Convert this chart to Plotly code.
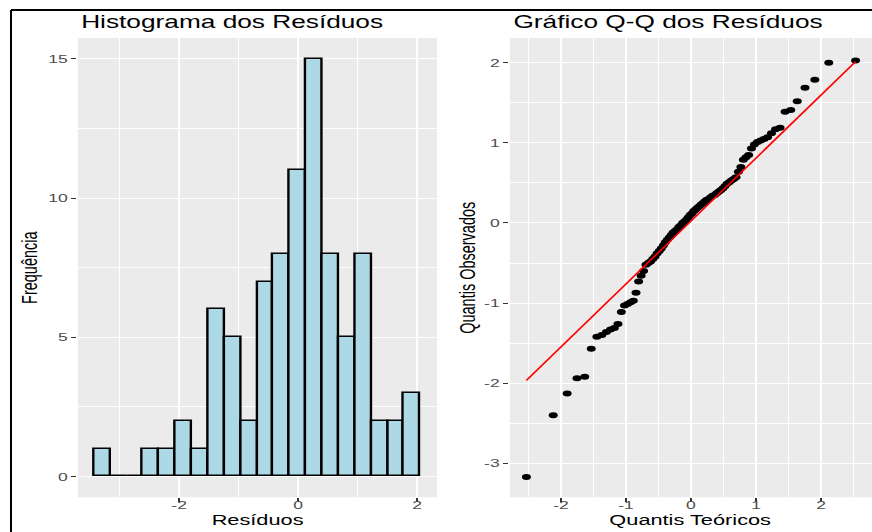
from statistics import NormalDist

import numpy as np
import plotly.graph_objects as go

# Resíduos do modelo (ordenados)
residuos = [
    -3.17, -2.40, -2.13, -1.94, -1.92, -1.57,
    -1.42, -1.40, -1.36, -1.33, -1.31, -1.26,
    -1.11, -1.03, -1.01, -0.99, -0.97,
    -0.87, -0.73,
    -0.66, -0.60, -0.52, -0.50, -0.48, -0.45, -0.42,
    -0.38, -0.35, -0.32, -0.28, -0.24, -0.21, -0.18, -0.15,
    -0.12, -0.10, -0.08, -0.05, -0.03, 0.00, 0.02, 0.04, 0.07, 0.10, 0.12,
    0.15, 0.17, 0.19, 0.21, 0.23, 0.25, 0.27, 0.29, 0.30, 0.32, 0.34, 0.35,
    0.37, 0.39, 0.41,
    0.43, 0.46, 0.49, 0.51, 0.53, 0.55, 0.57, 0.64,
    0.70, 0.79, 0.82, 0.85, 0.93,
    0.98, 1.01, 1.03, 1.05, 1.07, 1.12, 1.17, 1.19,
    1.39, 1.41,
    1.52, 1.69,
    1.79, 2.00, 2.03,
]

# Histograma: 20 classes
contagens = [1, 0, 0, 1, 1, 2, 1, 6, 5, 2, 7, 8, 11, 15, 8, 5, 8, 2, 2, 3]
inicio_classes = -3.425
largura_classe = 0.2742

hist_x_ticks = [-2, 0, 2]
hist_x_labels = ["-2", "0", "2"]
hist_y_ticks = [0, 5, 10, 15]
hist_y_labels = ["0", "5", "10", "15"]
qq_x_ticks = [-2, -1, 0, 1, 2]
qq_x_labels = ["-2", "-1", "0", "1", "2"]
qq_y_ticks = [-3, -2, -1, 0, 1, 2]
qq_y_labels = ["-3", "-2", "-1", "0", "1", "2"]

# ---- cálculos ----
centros = inicio_classes + largura_classe * (np.arange(len(contagens)) + 0.5)

n = len(residuos)
normal = NormalDist()
teoricos = [normal.inv_cdf((i - 0.5) / n) for i in range(1, n + 1)]

q1, q3 = np.quantile(residuos, [0.25, 0.75])
t1, t3 = normal.inv_cdf(0.25), normal.inv_cdf(0.75)
inclinacao = (q3 - q1) / (t3 - t1)
intercepto = q1 - inclinacao * t1
linha_x = [teoricos[0], teoricos[-1]]
linha_y = [intercepto + inclinacao * v for v in linha_x]

# ---- aparência ----
W, H = 581, 532
ESTICA = 872 / W
FONTE = "Liberation Sans, Arial, sans-serif"
PAINEL = "#EBEBEB"
TXT_EIXO = "#4D4D4D"

fig = go.Figure()

fig.add_trace(go.Bar(
    x=centros, y=contagens, width=largura_classe,
    marker=dict(color="#ADD8E6", line=dict(color="black", width=1.6)),
    xaxis="x", yaxis="y", showlegend=False, hoverinfo="skip",
))

fig.add_trace(go.Scatter(
    x=teoricos, y=residuos, mode="markers",
    marker=dict(color="black", size=6, line=dict(width=0)),
    xaxis="x2", yaxis="y2", showlegend=False, hoverinfo="skip",
))

fig.add_trace(go.Scatter(
    x=linha_x, y=linha_y, mode="lines",
    line=dict(color="red", width=1.3),
    xaxis="x2", yaxis="y2", showlegend=False, hoverinfo="skip",
))


def eixo(domain, rng, vals, labels, minor_dtick, anchor, standoff):
    return dict(
        domain=domain, range=rng, anchor=anchor,
        tickmode="array", tickvals=vals, ticktext=labels,
        ticks="outside", ticklen=3.5, tickwidth=1, tickcolor="#333333",
        tickfont=dict(family=FONTE, size=11.7, color=TXT_EIXO),
        ticklabelstandoff=standoff,
        showgrid=True, gridcolor="white", gridwidth=1.1,
        minor=dict(dtick=minor_dtick, tick0=0, showgrid=True,
                   gridcolor="white", gridwidth=0.55),
        zeroline=False, showline=False, fixedrange=True,
    )


y_dom = [0.0652, 0.9286]
esq_dom = [51.97 / W, 291.2 / W]
dir_dom = [339.8 / W, 1.0]

fig.update_layout(
    width=W, height=H,
    margin=dict(l=0, r=0, t=0, b=0),
    paper_bgcolor="white", plot_bgcolor=PAINEL,
    bargap=0,
    xaxis=eixo(esq_dom, [-3.699, 2.333], hist_x_ticks, hist_x_labels, 1, "y", -7),
    yaxis=eixo(y_dom, [-0.75, 15.75], hist_y_ticks, hist_y_labels, 2.5, "x", 0),
    xaxis2=eixo(dir_dom, [-2.784, 2.784], qq_x_ticks, qq_x_labels, 0.5, "y2", -7),
    yaxis2=eixo(y_dom, [-3.425, 2.31], qq_y_ticks, qq_y_labels, 0.5, "x2", 0),
)

titulo_y = 1 - 22.2 / H
eixo_x_y = 1 - 520.3 / H
meio_y = (y_dom[0] + y_dom[1]) / 2

anotacoes = [
    dict(text="Histograma dos Resíduos", x=esq_dom[0], y=titulo_y,
         xanchor="left", yanchor="middle", font=dict(size=17.5)),
    dict(text="Gráfico Q-Q dos Resíduos", x=dir_dom[0], y=titulo_y,
         xanchor="left", yanchor="middle", font=dict(size=17.5)),
    dict(text="Resíduos", x=sum(esq_dom) / 2, y=eixo_x_y,
         xanchor="center", yanchor="middle", font=dict(size=14.5)),
    dict(text="Quantis Teóricos", x=sum(dir_dom) / 2, y=eixo_x_y,
         xanchor="center", yanchor="middle", font=dict(size=14.5)),
    dict(text="Frequência", x=19.3 / W, y=meio_y, textangle=-90,
         xanchor="center", yanchor="middle", font=dict(size=14.5)),
    dict(text="Quantis Observados", x=311.2 / W, y=meio_y, textangle=-90,
         xanchor="center", yanchor="middle", font=dict(size=14.5)),
]
for a in anotacoes:
    a.update(xref="paper", yref="paper", showarrow=False)
    a["font"].update(family=FONTE, color="black")
fig.update_layout(annotations=anotacoes)

# moldura preta (topo e lateral esquerda)
borda_x = 7.33 / W
borda_y = 1 - 10 / H
fig.update_layout(shapes=[
    dict(type="line", xref="paper", yref="paper", x0=borda_x, x1=1,
         y0=borda_y, y1=borda_y, line=dict(color="black", width=2)),
    dict(type="line", xref="paper", yref="paper", x0=borda_x, x1=borda_x,
         y0=0, y1=borda_y, line=dict(color="black", width=1.35)),
])

estica_js = (
    "var d=document.getElementById('{plot_id}');"
    "d.style.transformOrigin='0 0';"
    "d.style.transform='scaleX(%.5f)';"
    "document.body.style.margin='0';" % ESTICA
)

fig.write_html("out.html", config={"displayModeBar": False},
               post_script=estica_js)
